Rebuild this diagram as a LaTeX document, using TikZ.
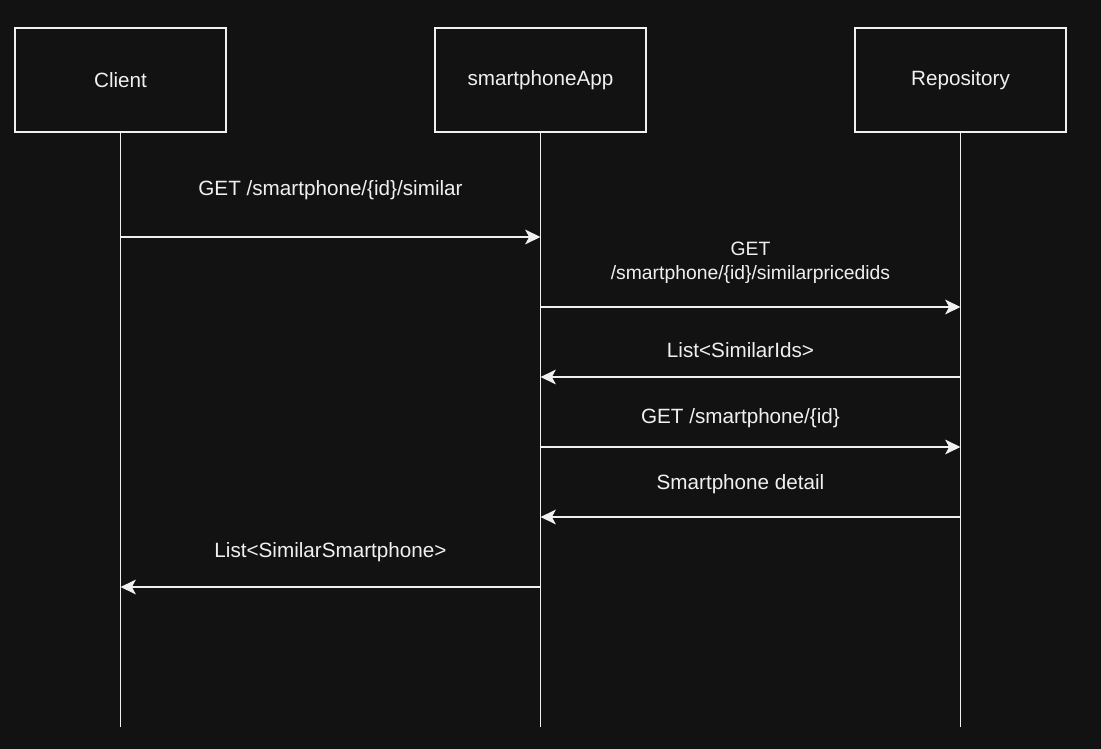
\documentclass[tikz,border=0pt]{standalone}
\usepackage{fontspec}
\setmainfont{Liberation Sans}
\usepackage{tikz}
\usetikzlibrary{arrows.meta}

\definecolor{bgdark}{HTML}{121212}
\definecolor{fgline}{HTML}{F0F0F0}

\tikzset{
    actor/.style={draw=fgline, line width=1.4pt, minimum width=158.25pt, minimum height=78pt, text=fgline, font=\fontsize{15.5}{18}\selectfont},
    lifeline/.style={draw=fgline, line width=1.4pt},
    msg/.style={draw=fgline, line width=1.4pt, -{Stealth[length=11.5pt, width=11pt, inset=3pt]}},
    msglabel/.style={text=fgline, font=\fontsize{15.5}{18}\selectfont, align=center}
}

\begin{document}
\begin{tikzpicture}[x=0.75pt, y=-0.75pt]
                % Background
                \fill[bgdark] (0,0) rectangle (1101,749);

                % Participants
                \node[actor] (client) at (120.5, 80) {Client};
                \node[actor] (app) at (540.5, 80) {smartphoneApp};
                \node[actor] (repo) at (960.5, 80) {Repository};

                % Lifelines
                \coordinate (clientEnd) at (120.5, 727);
                \coordinate (appEnd) at (540.5, 727);
                \coordinate (repoEnd) at (960.5, 727);
                \draw[lifeline] (client) -- (clientEnd);
                \draw[lifeline] (app) -- (appEnd);
                \draw[lifeline] (repo) -- (repoEnd);

                % Message rows
                \coordinate (m1) at (0, 237);
                \coordinate (m2) at (0, 307);
                \coordinate (m3) at (0, 377);
                \coordinate (m4) at (0, 447);
                \coordinate (m5) at (0, 517);
                \coordinate (m6) at (0, 587);

                % Messages
                \draw[msg] (client |- m1) -- (app |- m1) node[msglabel, midway, yshift=35pt] {GET /smartphone/\{id\}/similar};
                \draw[msg] (app |- m2) -- (repo |- m2) node[msglabel, midway, yshift=33.5pt, font=\fontsize{14.5}{18}\selectfont] {GET\\/smartphone/\{id\}/similarpricedids};
                \draw[msg] (repo |- m3) -- (app |- m3) node[msglabel, midway, xshift=-7.5pt, yshift=20pt] {List<SimilarIds>};
                \draw[msg] (app |- m4) -- (repo |- m4) node[msglabel, midway, xshift=-7.5pt, yshift=22pt] {GET /smartphone/\{id\}};
                \draw[msg] (repo |- m5) -- (app |- m5) node[msglabel, midway, xshift=-7.5pt, yshift=25pt] {Smartphone detail};
                \draw[msg] (app |- m6) -- (client |- m6) node[msglabel, midway, yshift=26pt] {List<SimilarSmartphone>};
            \end{tikzpicture}
\end{document}
